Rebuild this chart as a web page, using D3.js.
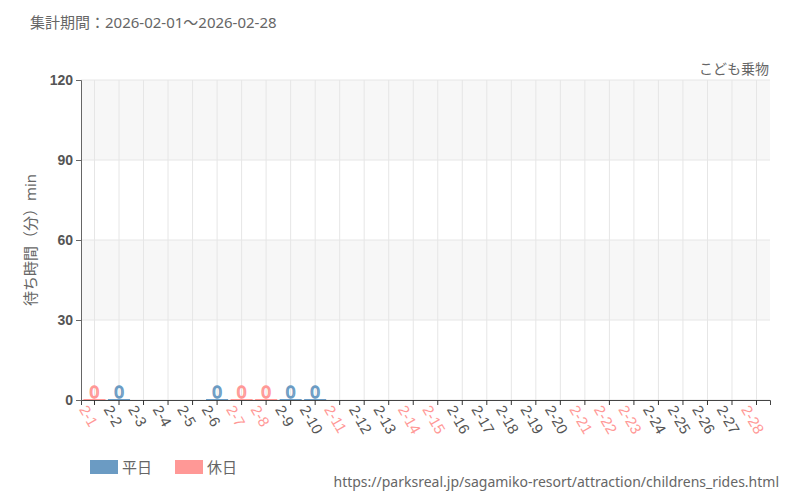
<!DOCTYPE html>
<html lang="ja">
<head>
<meta charset="UTF-8" />
<script src="https://d3js.org/d3.v7.min.js"></script>
<style>
  body { margin: 0; background: #fff; font-family: "Noto Sans", "Noto Sans CJK JP", sans-serif; }
  svg { font-family: "Noto Sans", "Noto Sans CJK JP", sans-serif; }
  text { fill: #666; }
</style>
</head>
<body>
<svg id="chart" width="800" height="500"></svg>
<script>
var days = d3.range(1, 29).map(function (d) { return "2-" + d; });
var holidays = ["2-1", "2-7", "2-8", "2-11", "2-14", "2-15", "2-21", "2-22", "2-23", "2-28"];
// null = no data
var waits = [0, 0, null, null, null, 0, 0, 0, 0, 0, null, null, null, null, null, null, null, null, null, null, null, null, null, null, null, null, null, null];
var yTicks = [0, 30, 60, 90, 120];

var colWeek = "#6b9bc3", colHol = "#ff9896";
var svg = d3.select("#chart");
var m = { l: 81, r: 30, t: 80, b: 100 };
var w = 800 - m.l - m.r, h = 500 - m.t - m.b;

var x = d3.scaleBand().domain(days).range([m.l, m.l + w]).padding(0.1);
var y = d3.scaleLinear().domain([0, 120]).range([m.t + h, m.t]);

[[90, 120], [30, 60]].forEach(function (b) {
  svg.append("rect").attr("x", m.l).attr("width", w)
    .attr("y", y(b[1])).attr("height", y(b[0]) - y(b[1])).attr("fill", "#f7f7f7");
});
svg.selectAll(".hg").data(yTicks).enter().append("line")
  .attr("x1", m.l).attr("x2", m.l + w).attr("y1", function (d) { return y(d); }).attr("y2", function (d) { return y(d); })
  .attr("stroke", "#e6e6e6");
svg.selectAll(".vg").data(days).enter().append("line")
  .attr("x1", function (d) { return x(d) + x.bandwidth() / 2; }).attr("x2", function (d) { return x(d) + x.bandwidth() / 2; })
  .attr("y1", m.t).attr("y2", m.t + h).attr("stroke", "#e6e6e6");

var isHol = function (d) { return holidays.indexOf(d) >= 0; };
var pts = days.map(function (d, i) { return { d: d, v: waits[i] }; }).filter(function (p) { return p.v !== null; });

svg.selectAll(".bar").data(pts).enter().append("rect")
  .attr("x", function (p) { return x(p.d); }).attr("width", x.bandwidth())
  .attr("y", function (p) { return y(p.v) - 1; }).attr("height", function (p) { return y(0) - y(p.v) + 1; })
  .attr("fill", function (p) { return isHol(p.d) ? colHol : colWeek; });
svg.selectAll(".lbl").data(pts).enter().append("text")
  .attr("x", function (p) { return x(p.d) + x.bandwidth() / 2; }).attr("y", function (p) { return y(p.v) - 2; })
  .attr("text-anchor", "middle").attr("font-size", 17)
  .style("fill", "#fff").style("stroke", function (p) { return isHol(p.d) ? colHol : colWeek; }).style("stroke-width", 1.3)
  .text(function (p) { return p.v; });

var ya = svg.append("g").attr("transform", "translate(" + m.l + ",0)")
  .call(d3.axisLeft(y).tickValues(yTicks).tickSize(5));
ya.selectAll("text").attr("font-size", 14).attr("font-weight", "bold").style("fill", "#555");
ya.select(".domain").attr("stroke", "#666");
ya.selectAll(".tick line").attr("stroke", "#666");

var xa = svg.append("g").attr("transform", "translate(0," + (m.t + h) + ")")
  .call(d3.axisBottom(x).tickSize(5));
xa.select(".domain").attr("stroke", "#444");
xa.selectAll(".tick line").attr("stroke", "#333");
xa.selectAll("text").attr("font-size", 15).attr("text-anchor", "start")
  .attr("transform", "translate(-5,3) rotate(60)").attr("dy", "0.3em").attr("dx", 0)
  .style("fill", function (d) { return isHol(d) ? colHol : "#555"; });

svg.append("text").attr("x", 30).attr("y", 28).attr("font-size", 15).text("集計期間：2026-02-01～2026-02-28");
svg.append("text").attr("x", 769).attr("y", 74).attr("text-anchor", "end").attr("font-size", 14).text("こども乗物");
svg.append("text").attr("transform", "translate(36,240) rotate(-90)").attr("text-anchor", "middle")
  .attr("font-size", 15).text("待ち時間（分）min");

[["平日", colWeek, 90], ["休日", colHol, 175]].forEach(function (l) {
  svg.append("rect").attr("x", l[2]).attr("y", 460).attr("width", 28).attr("height", 14).attr("fill", l[1]);
  svg.append("text").attr("x", l[2] + 32).attr("y", 473).attr("font-size", 15).text(l[0]);
});
svg.append("text").attr("x", 779).attr("y", 487).attr("text-anchor", "end").attr("font-size", 14)
  .text("https://parksreal.jp/sagamiko-resort/attraction/childrens_rides.html");
</script>
</body>
</html>
